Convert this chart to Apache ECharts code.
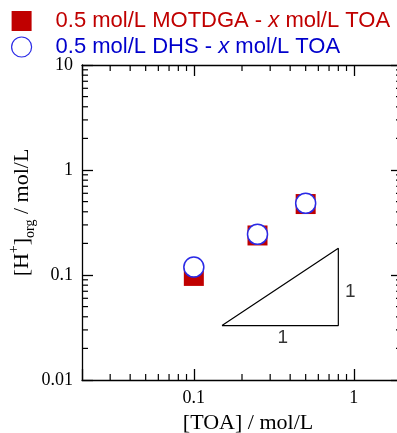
<!DOCTYPE html>
<html>
<head>
<meta charset="utf-8">
<script src="https://cdn.jsdelivr.net/npm/echarts@6/dist/echarts.min.js"></script>
<style>
  html, body { margin: 0; padding: 0; background: #fff; }
  #chart { width: 397px; height: 433px; }
</style>
</head>
<body>
<div id="chart"></div>
<script>
// data
const seriesNames = ['0.5 mol/L MOTDGA - x mol/L TOA', '0.5 mol/L DHS - x mol/L TOA'];
const toa = [0.1, 0.25, 0.5];
const hMotdga = [0.098, 0.238, 0.474];
const hDhs = [0.119, 0.244, 0.482];
// slope triangle and its "1" labels
const triangle = [[0.15, 0.033], [0.8, 0.033], [0.8, 0.18], [0.15, 0.033]];
const triangleLabels = [[0.36, 0.025, '1'], [0.95, 0.069, '1']];
// minor ticks of the log axes
const xMinor = [0.03, 0.04, 0.05, 0.06, 0.07, 0.08, 0.09, 0.2, 0.3, 0.4, 0.5, 0.6, 0.7, 0.8, 0.9];
const yMinor = [0.02, 0.03, 0.04, 0.05, 0.06, 0.07, 0.08, 0.09, 0.2, 0.3, 0.4, 0.5, 0.6, 0.7, 0.8, 0.9,
                2, 3, 4, 5, 6, 7, 8, 9];

const chart = echarts.init(document.getElementById('chart'));

const serif = 'Liberation Serif';
const sans = 'Liberation Sans';
const RED = '#c00000';
const BLUE = '#0000cc';

// only label whole decades
const decadeLabel = v => {
    const l = Math.log10(v);
    return Math.abs(l - Math.round(l)) < 1e-6 ? String(+v.toPrecision(3)) : '';
};

const tickStyle = { show: true, inside: true, length: 11, lineStyle: { color: '#000', width: 1.3 } };
const lineStyle = { show: true, onZero: false, lineStyle: { color: '#000', width: 1.3 } };

const minorLine = (x1, y1, x2, y2) => ({
    type: 'line',
    shape: { x1: x1, y1: y1, x2: x2, y2: y2 },
    style: { stroke: '#000', lineWidth: 1.2 }
});

const options = {
    animation: false,
    legend: {
        orient: 'vertical',
        left: 11,
        top: 10,
        padding: 0,
        itemWidth: 20,
        itemHeight: 20,
        itemGap: 4,
        selectedMode: false,
        data: [
            { name: seriesNames[0] },
            { name: seriesNames[1], itemStyle: { borderWidth: 1.2 } }
        ],
        textStyle: {
            fontFamily: sans,
            fontSize: 22,
            padding: [0, 0, 0, 19],
            rich: {
                r: { color: RED, fontFamily: sans, fontSize: 22 },
                ri: { color: RED, fontFamily: sans, fontSize: 22, fontStyle: 'italic' },
                b: { color: BLUE, fontFamily: sans, fontSize: 22 },
                bi: { color: BLUE, fontFamily: sans, fontSize: 22, fontStyle: 'italic' }
            }
        },
        formatter: name => {
            const k = name === seriesNames[0] ? 'r' : 'b';
            const parts = name.split(' x ');
            return '{' + k + '|' + parts[0] + ' }{' + k + 'i|x}{' + k + '| ' + parts[1] + '}';
        }
    },
    grid: { left: 82, top: 65, right: -5, bottom: 53, outerBoundsMode: 'none', containLabel: false },
    xAxis: [
        {
            type: 'log', min: 0.02, max: 2, position: 'bottom',
            name: '[TOA] / mol/L', nameLocation: 'middle', nameGap: 28,
            nameTextStyle: { fontFamily: serif, fontSize: 22, color: '#000', padding: [0, 0, 0, 12] },
            axisLine: lineStyle, axisTick: tickStyle, splitLine: { show: false },
            axisLabel: { fontFamily: serif, fontSize: 18, color: '#000', margin: 9, formatter: decadeLabel }
        },
        {
            type: 'log', min: 0.02, max: 2, position: 'top',
            axisLine: lineStyle, axisTick: tickStyle, splitLine: { show: false },
            axisLabel: { show: false }
        }
    ],
    yAxis: [
        {
            type: 'log', min: 0.01, max: 10, position: 'left',
            name: '{b|[H}{sup|+}{b|]}{sub|org}{b| / mol/L}',
            nameLocation: 'middle', nameGap: 45, nameMoveOverlap: false,
            nameTextStyle: {
                color: '#000',
                padding: [0, 0, 0, 20],
                rich: {
                    b: { fontFamily: serif, fontSize: 22, color: '#000', lineHeight: 30 },
                    sup: { fontFamily: serif, fontSize: 14, color: '#000', verticalAlign: 'top', lineHeight: 30 },
                    sub: { fontFamily: serif, fontSize: 14, color: '#000', verticalAlign: 'bottom', lineHeight: 30 }
                }
            },
            axisLine: lineStyle, axisTick: tickStyle, splitLine: { show: false },
            axisLabel: { fontFamily: serif, fontSize: 18, color: '#000', margin: 9, formatter: decadeLabel }
        },
        {
            type: 'log', min: 0.01, max: 10, position: 'right',
            axisLine: lineStyle, axisTick: tickStyle, splitLine: { show: false },
            axisLabel: { show: false }
        }
    ],
    series: [
        {
            // minor ticks on bottom and top
            type: 'custom',
            silent: true,
            clip: false,
            data: xMinor.map(v => [v, 1]),
            renderItem: (params, api) => {
                const cs = params.coordSys;
                const x = api.coord([api.value(0), 1])[0];
                const yb = cs.y + cs.height;
                return {
                    type: 'group',
                    children: [
                        minorLine(x, yb, x, yb - 6),
                        minorLine(x, cs.y, x, cs.y + 6)
                    ]
                };
            }
        },
        {
            // minor ticks on left and right
            type: 'custom',
            silent: true,
            clip: false,
            data: yMinor.map(v => [0.1, v]),
            renderItem: (params, api) => {
                const cs = params.coordSys;
                const y = api.coord([0.1, api.value(1)])[1];
                const xr = cs.x + cs.width;
                return {
                    type: 'group',
                    children: [
                        minorLine(cs.x, y, cs.x + 6, y),
                        minorLine(xr, y, xr - 6, y)
                    ]
                };
            }
        },
        {
            type: 'line',
            silent: true,
            symbol: 'none',
            data: triangle,
            lineStyle: { color: '#000', width: 1.2 }
        },
        {
            type: 'scatter',
            silent: true,
            symbolSize: 0,
            data: triangleLabels,
            label: {
                show: true,
                position: 'inside',
                formatter: p => p.data[2],
                fontFamily: sans,
                fontSize: 19,
                color: '#000'
            }
        },
        {
            name: seriesNames[0],
            type: 'scatter',
            symbol: 'rect',
            symbolSize: 20,
            data: toa.map((x, i) => [x, hMotdga[i]]),
            itemStyle: { color: RED, opacity: 1 }
        },
        {
            name: seriesNames[1],
            type: 'scatter',
            symbol: 'circle',
            symbolSize: 20,
            data: toa.map((x, i) => [x, hDhs[i]]),
            itemStyle: { color: '#fff', borderColor: '#2a2ae6', borderWidth: 1.5, opacity: 1 }
        }
    ]
};

chart.setOption(options);
</script>
</body>
</html>
